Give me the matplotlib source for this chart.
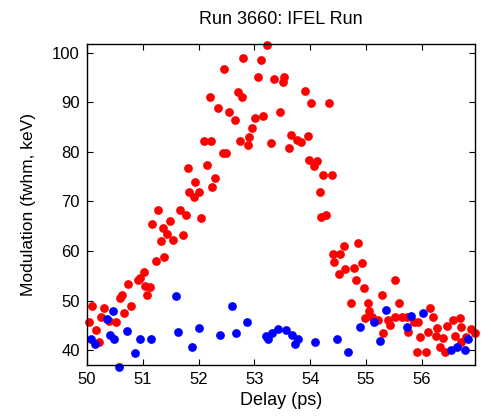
import matplotlib
matplotlib.use("Agg")
import matplotlib.pyplot as plt

# IFEL run: modulation vs delay, red = IFEL on, blue = background
delay_red = [50.04, 50.09, 50.17, 50.21, 50.26, 50.30, 50.39, 50.52, 50.60, 50.63,
             50.67, 50.73, 50.79, 50.92, 50.95, 51.02, 51.04, 51.08, 51.13, 51.17,
             51.23, 51.28, 51.33, 51.36, 51.39, 51.44, 51.49, 51.55, 51.67, 51.73,
             51.78, 51.81, 51.83, 51.92, 51.94, 52.01, 52.05, 52.09, 52.15, 52.20,
             52.23, 52.25, 52.30, 52.35, 52.44, 52.46, 52.49, 52.55, 52.65, 52.70,
             52.75, 52.78, 52.80, 52.89, 52.91, 52.96, 53.01, 53.07, 53.12, 53.16,
             53.23, 53.30, 53.36, 53.46, 53.51, 53.54, 53.62, 53.65, 53.76, 53.83,
             53.91, 53.96, 53.98, 54.02, 54.07, 54.12, 54.17, 54.20, 54.23, 54.28,
             54.33, 54.39, 54.41, 54.43, 54.51, 54.54, 54.60, 54.63, 54.73, 54.78,
             54.83, 54.86, 54.93, 54.96, 54.99, 55.04, 55.06, 55.10, 55.22, 55.28,
             55.31, 55.40, 55.43, 55.52, 55.52, 55.59, 55.64, 55.73, 55.76, 55.86,
             55.92, 55.93, 55.96, 56.07, 56.12, 56.14, 56.20, 56.25, 56.28, 56.32,
             56.38, 56.41, 56.45, 56.56, 56.60, 56.68, 56.70, 56.71, 56.79, 56.89,
             56.96]
mod_red = [45.6, 48.9, 44.1, 41.6, 46.7, 48.5, 45.8, 45.6, 50.5, 51.2,
           47.5, 53.4, 48.8, 54.2, 54.6, 55.7, 52.9, 51.2, 52.8, 65.4,
           57.9, 68.2, 62.0, 64.7, 58.8, 63.4, 66.0, 62.2, 68.2, 63.2,
           67.3, 76.7, 71.9, 70.8, 73.9, 71.9, 66.6, 82.1, 77.3, 91.1,
           82.1, 72.9, 74.8, 88.9, 79.8, 96.7, 79.8, 88.0, 86.4, 92.1,
           82.1, 91.1, 99.0, 81.3, 83.0, 84.8, 86.9, 95.2, 98.6, 87.3,
           101.5, 81.7, 94.8, 88.0, 94.2, 95.2, 80.8, 83.5, 82.4, 82.0,
           92.3, 83.2, 78.3, 89.9, 77.2, 78.2, 71.9, 66.9, 75.4, 67.3,
           89.9, 75.4, 59.4, 57.8, 55.3, 59.3, 61.0, 56.3, 49.4, 56.6,
           54.1, 61.6, 57.5, 52.5, 46.4, 49.4, 47.8, 46.6, 46.0, 51.2,
           43.4, 46.0, 45.0, 54.1, 46.7, 49.4, 46.6, 46.7, 43.7, 45.6,
           39.7, 45.6, 42.6, 39.7, 43.7, 48.4, 46.6, 42.9, 44.4, 40.7,
           42.4, 39.7, 44.8, 46.0, 42.9, 46.4, 44.7, 41.7, 42.7, 44.2,
           43.5]

delay_blue = [50.07, 50.15, 50.36, 50.41, 50.46, 50.49, 50.58, 50.71, 50.86, 50.96,
              51.15, 51.60, 51.63, 51.89, 52.00, 52.38, 52.60, 52.67, 52.86, 53.20,
              53.25, 53.31, 53.42, 53.57, 53.68, 53.73, 53.78, 54.09, 54.48, 54.68,
              54.89, 55.15, 55.26, 55.36, 55.73, 55.80, 56.02, 56.52, 56.63, 56.77,
              56.83]
mod_blue = [42.2, 41.3, 46.3, 43.0, 47.9, 42.2, 36.6, 43.8, 39.5, 42.2,
            42.2, 51.0, 43.7, 40.7, 44.4, 43.1, 48.9, 43.5, 45.6, 42.9,
            42.2, 43.4, 44.2, 44.1, 43.1, 41.3, 42.2, 41.6, 42.2, 39.7,
            44.7, 45.6, 41.9, 48.1, 44.7, 46.9, 47.5, 40.0, 40.7, 40.0,
            42.2]

xticks = [50, 51, 52, 53, 54, 55, 56]
yticks = [40, 50, 60, 70, 80, 90, 100]

plt.rcParams['font.family'] = ['Liberation Sans Narrow', 'Liberation Sans', 'DejaVu Sans']

fig = plt.figure(figsize=(4.91, 4.18), dpi=100)
ax = fig.add_axes([0.177, 0.127, 0.790, 0.768])

ax.plot(delay_red, mod_red, 'o', color='#ff0000', markersize=6.3,
        markeredgewidth=0, clip_on=False)
ax.plot(delay_blue, mod_blue, 'o', color='#0000ff', markersize=6.3,
        markeredgewidth=0, clip_on=False)

ax.set_xlim(50, 56.95)
ax.set_ylim(37, 101.8)
ax.set_xticks(xticks)
ax.set_yticks(yticks)
ax.tick_params(direction='in', length=4, width=0.8, top=True, right=True,
               labelsize=12, pad=5)
for s in ax.spines.values():
    s.set_linewidth(1.0)

ax.set_title('Run 3660: IFEL Run', fontsize=13, pad=14)
ax.set_xlabel('Delay (ps)', fontsize=13, labelpad=4)
ax.set_ylabel('Modulation (fwhm, keV)', fontsize=12.5, labelpad=12)

fig.savefig('out.png', dpi=100)
